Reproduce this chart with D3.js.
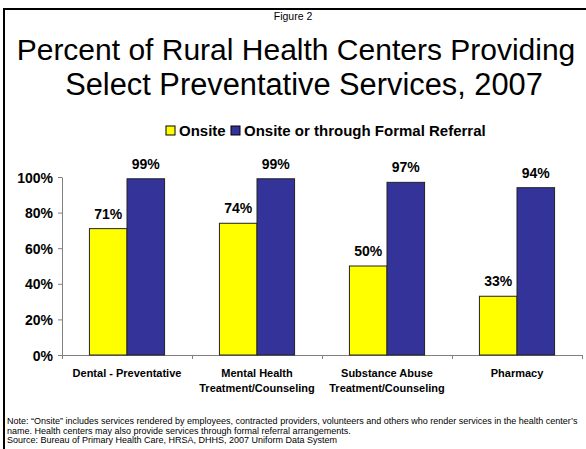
<!DOCTYPE html>
<html>
<head>
<meta charset="utf-8">
<script src="https://cdn.jsdelivr.net/npm/d3@7"></script>
<style>
    body { margin: 0; background: #fff; }
    svg { display: block; font-family: Arial, "Liberation Sans", sans-serif; }
    .axis path, .axis line { stroke: #808080; }
    .axis text { font-size: 14px; font-weight: bold; fill: #000; }
</style>
</head>
<body>
<div id="chart"></div>
<script>

// categories (each label split into its lines)
let categories = ["Dental - Preventative", "Mental Health Treatment/Counseling",
    "Substance Abuse Treatment/Counseling", "Pharmacy"];
let categoryLines = [["Dental - Preventative"], ["Mental Health", "Treatment/Counseling"],
    ["Substance Abuse", "Treatment/Counseling"], ["Pharmacy"]];

// series
let seriesNames = ["Onsite", "Onsite or through Formal Referral"];
let onsite = [71, 74, 50, 33];
let onsiteOrReferral = [99, 99, 97, 94];
let seriesColors = ["#FFFF00", "#333399"];

let yTicks = [0, 20, 40, 60, 80, 100];

let noteLines = [
    "Note: \u201cOnsite\u201d includes services rendered by employees, contracted providers, volunteers and others who render services in the health center\u2019s",
    "name. Health centers may also provide services through formal referral arrangements.",
    "Source: Bureau of Primary Health Care, HRSA, DHHS, 2007 Uniform Data System"
];


class groupedBars {

    constructor(_parentElement) {
        this.parentElement = _parentElement;
        this.initVis();
    }

    initVis() {
        let vis = this;

        vis.width = 586;
        vis.height = 449;

        vis.svg = d3.select("#" + vis.parentElement).append("svg")
            .attr("width", vis.width)
            .attr("height", vis.height);

        // frame (left + top edges only, like the original slide crop)
        vis.svg.append("path")
            .attr("d", "M4,449V9H586")
            .attr("fill", "none")
            .attr("stroke", "#000")
            .attr("stroke-width", 2);

        // titles
        vis.svg.append("text")
            .attr("x", 293).attr("y", 20)
            .attr("text-anchor", "middle")
            .style("font-size", "10.5px")
            .text("Figure 2");

        vis.svg.append("text")
            .attr("x", 296).attr("y", 60)
            .attr("text-anchor", "middle")
            .style("font-size", "30px")
            .text("Percent of Rural Health Centers Providing");

        vis.svg.append("text")
            .attr("x", 304).attr("y", 95)
            .attr("text-anchor", "middle")
            .style("font-size", "30.8px")
            .text("Select Preventative Services, 2007");

        // legend
        let legendX = [166, 231];
        seriesNames.forEach(function (name, i) {
            vis.svg.append("rect")
                .attr("x", legendX[i]).attr("y", 126)
                .attr("width", 9).attr("height", 9)
                .style("fill", seriesColors[i])
                .style("stroke", "#000")
                .style("stroke-width", 1);
            vis.svg.append("text")
                .attr("x", legendX[i] + 13).attr("y", 136)
                .style("font-size", "15px")
                .style("font-weight", "bold")
                .text(name);
        });

        // plot area
        vis.plot = { left: 62, right: 582, top: 177, bottom: 355 };

        vis.x = d3.scaleBand()
            .domain(categories)
            .range([vis.plot.left, vis.plot.right])
            .paddingInner(0)
            .paddingOuter(0);

        vis.xInner = d3.scaleBand()
            .domain(seriesNames)
            .range([0, vis.x.bandwidth()])
            .paddingInner(0)
            .paddingOuter(0.73);

        vis.y = d3.scaleLinear()
            .domain([0, 100])
            .range([vis.plot.bottom, vis.plot.top]);

        vis.yAxis = d3.axisLeft(vis.y)
            .tickValues(yTicks)
            .tickSize(4)
            .tickSizeOuter(0)
            .tickPadding(5)
            .tickFormat(function (d) { return d + "%"; });

        vis.svg.append("g")
            .attr("class", "y-axis axis")
            .attr("transform", "translate(" + vis.plot.left + ",0)")
            .call(vis.yAxis)
            .call(g => g.selectAll("text").attr("dy", "0.36em"));

        // x axis: ticks sit on category boundaries
        vis.xBounds = d3.scaleLinear()
            .domain([0, categories.length])
            .range([vis.plot.left, vis.plot.right]);

        vis.xAxis = d3.axisBottom(vis.xBounds)
            .tickValues(d3.range(0, categories.length + 1))
            .tickSize(4)
            .tickSizeOuter(0)
            .tickFormat("");

        vis.svg.append("g")
            .attr("class", "x-axis axis")
            .attr("transform", "translate(0," + vis.plot.bottom + ")")
            .call(vis.xAxis);

        vis.wrangleData();
    }

    wrangleData() {
        let vis = this;

        vis.displayData = [];
        categories.forEach(function (c, i) {
            vis.displayData.push({ category: c, series: seriesNames[0], value: onsite[i], color: seriesColors[0] });
            vis.displayData.push({ category: c, series: seriesNames[1], value: onsiteOrReferral[i], color: seriesColors[1] });
        });

        vis.updateVis();
    }

    updateVis() {
        let vis = this;

        let bars = vis.svg.selectAll(".bar")
            .data(vis.displayData);

        bars.enter().append("rect")
            .attr("class", "bar")
            .attr("x", d => vis.x(d.category) + vis.xInner(d.series))
            .attr("width", vis.xInner.bandwidth())
            .attr("y", d => vis.y(d.value))
            .attr("height", d => vis.y(0) - vis.y(d.value))
            .style("fill", d => d.color)
            .style("stroke", "#222")
            .style("stroke-width", 1);

        // value labels
        vis.svg.selectAll(".value-label")
            .data(vis.displayData)
            .enter().append("text")
            .attr("class", "value-label")
            .attr("x", d => vis.x(d.category) + vis.xInner(d.series) + vis.xInner.bandwidth() / 2)
            .attr("y", d => vis.y(d.value) - 10)
            .attr("text-anchor", "middle")
            .style("font-size", "14px")
            .style("font-weight", "bold")
            .text(d => d.value + "%");

        // category labels
        let catLabels = vis.svg.selectAll(".cat-label")
            .data(categories)
            .enter().append("text")
            .attr("class", "cat-label")
            .attr("text-anchor", "middle")
            .style("font-size", "11px")
            .style("font-weight", "bold");

        catLabels.selectAll("tspan")
            .data((d, i) => categoryLines[i].map(line => ({ line: line, cat: d })))
            .enter().append("tspan")
            .attr("x", d => vis.x(d.cat) + vis.x.bandwidth() / 2)
            .attr("y", (d, j) => 377 + j * 15)
            .text(d => d.line);

        // footnote
        vis.svg.selectAll(".note")
            .data(noteLines)
            .enter().append("text")
            .attr("class", "note")
            .attr("x", 7)
            .attr("y", (d, i) => 424 + i * 9.5)
            .style("font-size", "9px")
            .text(d => d);
    }
}

new groupedBars("chart");

</script>
</body>
</html>
